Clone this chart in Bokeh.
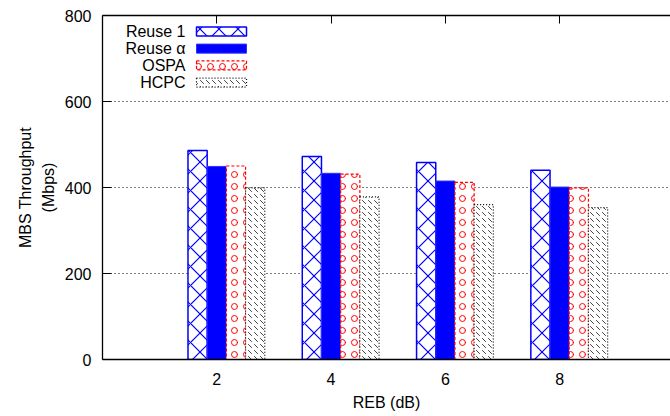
from bokeh.plotting import figure
from bokeh.models import (Range1d, LinearAxis, FixedTicker, Label, BoxAnnotation,
                          ColumnDataSource, Title)
from bokeh.transform import dodge
from bokeh.embed import file_html
from bokeh.resources import INLINE

# ---- data ----
reb = [2, 4, 6, 8]
reuse_1 = [486, 472, 458, 440]
reuse_alpha = [449, 433, 415, 401]
ospa = [450, 431, 412, 399]
hcpc = [399, 378, 360, 353]
series_names = ["Reuse 1", "Reuse \u03b1", "OSPA", "HCPC"]
y_ticks = [0, 200, 400, 600, 800]
x_label = "REB (dB)"
y_label_lines = ["MBS Throughput", "(Mbps)"]

FONT = "Liberation Sans"
FS = "16px"
BAR_W = 0.336

src = ColumnDataSource(dict(reb=reb, r1=reuse_1, ra=reuse_alpha, ospa=ospa, hcpc=hcpc))

p = figure(width=670, height=416, output_backend="svg", toolbar_location=None,
           x_range=Range1d(0, 9.94), y_range=Range1d(0, 800),
           min_border_left=102, min_border_right=0, min_border_top=15,
           min_border_bottom=57)
p.outline_line_color = None
p.background_fill_color = "white"
p.border_fill_color = "white"

styles = [
    dict(fill_color="white", line_color="blue", line_width=1.5,
         hatch_pattern="diagonal_cross", hatch_color="blue", hatch_scale=19,
         hatch_weight=1.2),
    dict(fill_color="blue", line_color="#3030ff", line_width=1),
    dict(fill_color="white", line_color="red", line_width=1.2, line_dash="3 2",
         hatch_pattern="ring", hatch_color="red", hatch_scale=12, hatch_weight=1),
    dict(fill_color="white", line_color="black", line_width=1.2, line_dash="1 2",
         hatch_pattern="left_diagonal_dash", hatch_color="#444444", hatch_scale=6,
         hatch_weight=1),
]
cols = ["r1", "ra", "ospa", "hcpc"]
offsets = [-BAR_W, 0.0, BAR_W, 2 * BAR_W]
for col, off, st in zip(cols, offsets, styles):
    p.vbar(x=dodge("reb", off), top=col, bottom=0, width=BAR_W, source=src, **st)

# ---- axes ----
xa = p.xaxis[0]
xa.ticker = FixedTicker(ticks=reb, minor_ticks=[])
xa.major_tick_in = 0
xa.major_tick_out = 0
xa.minor_tick_in = 0
xa.minor_tick_out = 0
xa.major_label_standoff = 13
xa.major_label_text_font = FONT
xa.major_label_text_font_size = FS
xa.major_label_text_color = "black"
xa.axis_label = x_label
xa.axis_label_standoff = 6
xa.axis_label_text_font = FONT
xa.axis_label_text_font_size = FS
xa.axis_label_text_font_style = "normal"
xa.axis_label_text_color = "black"
xa.axis_line_width = 1.3
xa.axis_line_color = "black"

ya = p.yaxis[0]
ya.ticker = FixedTicker(ticks=y_ticks, minor_ticks=[])
ya.major_tick_in = 9
ya.major_tick_out = 0
ya.minor_tick_in = 0
ya.minor_tick_out = 0
ya.major_tick_line_color = "black"
ya.major_label_standoff = 11
ya.major_label_text_font = FONT
ya.major_label_text_font_size = FS
ya.major_label_text_color = "black"
ya.axis_line_width = 1.3
ya.axis_line_color = "black"

# y-axis title, two lines, as left-side titles
t_inner = Title(text=y_label_lines[1], align="center", offset=48, standoff=10,
                text_font=FONT, text_font_size=FS, text_font_style="normal",
                text_color="black")
p.add_layout(t_inner, "left")
t_outer = Title(text=y_label_lines[0], align="center", offset=16, standoff=-3,
                text_font=FONT, text_font_size=FS, text_font_style="normal",
                text_color="black")
p.add_layout(t_outer, "left")

top = LinearAxis(ticker=FixedTicker(ticks=reb, minor_ticks=[]))
top.major_tick_in = 8
top.major_tick_out = 0
top.minor_tick_in = 0
top.minor_tick_out = 0
top.major_label_overrides = {t: "" for t in reb}
top.major_label_standoff = 0
top.axis_line_width = 1.3
top.axis_line_color = "black"
top.major_tick_line_color = "black"
p.add_layout(top, "above")

p.xgrid.visible = False
p.ygrid.ticker = FixedTicker(ticks=y_ticks, minor_ticks=[])
p.ygrid.grid_line_color = "black"
p.ygrid.grid_line_dash = "1 3"
p.ygrid.grid_line_width = 1

# ---- legend (text right-aligned, key to the right) ----
leg_y = [763, 723, 684, 644]
for name, st, yc in zip(series_names, styles, leg_y):
    p.add_layout(Label(x=1.452, y=yc, text=name, text_align="right",
                       text_baseline="middle", text_font=FONT,
                       text_font_size=FS, text_color="black"))
    kw = dict(st)
    kw.setdefault("hatch_pattern", None)
    box = BoxAnnotation(left=1.645, right=2.52, bottom=yc - 10.5, top=yc + 10.5,
                        fill_alpha=1, line_alpha=1, **kw)
    p.add_layout(box)

open("out.html", "w").write(file_html(p, INLINE))
